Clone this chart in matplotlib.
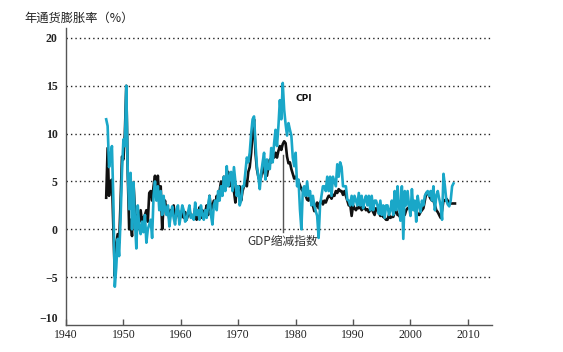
import numpy as np
import matplotlib
matplotlib.use("Agg")
import matplotlib.pyplot as plt

# ---- data (quarterly, annualized %) ----
start_year = 1947.0
cpi = [
    11.5, 10.8, 6.5, 7.5,   8.7, 3.0, -6.0, -4.0,   -1.0, -2.8, 1.0, 6.0,
    9.4, 8.7, 15.0, 6.2,    2.1, 5.9, 0.0, 4.9,     1.0, -2.0, 2.5, 0.3,
    -0.5, 0.8, -0.3, 1.5,   -1.4, 0.0, 0.5, 1.0,    -0.9, 3.5, 5.0, 3.0,
    4.5, 2.0, 4.0, 1.5,     3.5, 2.0, 1.5, 2.5,     0.3, 1.5, 2.4, 1.2,
    0.5, 2.0, 2.5, 0.5,     1.5, 2.5, 2.0, 0.8,     1.0, 1.8, 2.5, 1.2,
    1.5, 1.0, 2.8, 1.5,     2.0, 1.0, 2.5, 1.5,     1.0, 2.0, 1.2, 2.5,
    3.5, 1.5, 0.5, 2.5,     3.0, 2.0, 4.0, 3.0,     4.5, 3.5, 5.5, 4.0,
    6.6, 4.5, 5.5, 6.0,     4.0, 6.5, 5.0, 3.5,     4.5, 2.5, 3.0, 4.5,
    4.5, 6.0, 7.5, 7.0,     8.0, 10.0, 11.5, 11.8,  9.0, 6.6, 5.5, 4.2,
    5.9, 7.0, 8.0, 5.2,     7.3, 6.3, 6.3, 8.5,     7.0, 9.0, 10.4, 8.7,
    10.8, 13.5, 11.5, 15.3, 12.5, 11.0, 9.8, 11.1,  10.4, 9.8, 7.5, 6.6,
    8.0, 4.5, 5.2, 2.1,     0.0, 4.2, 4.5, 3.5,     5.0, 3.5, 4.0, 2.5,
    3.5, 2.5, 1.9, 1.4,     -0.9, 2.5, 3.5, 4.5,    4.5, 4.0, 5.5, 4.0,
    5.5, 3.5, 5.5, 5.0,     4.5, 6.8, 5.5, 7.0,     6.5, 4.5, 4.5, 4.5,
    3.1, 3.0, 2.5, 3.5,     2.5, 3.5, 3.0, 2.5,     3.8, 2.5, 3.5, 2.2,
    3.0, 3.5, 2.5, 3.5,     2.0, 3.5, 2.0, 3.0,     3.0, 2.5, 1.6, 3.0,
    1.5, 2.5, 1.2, 2.5,     2.5, 1.5, 2.0, 3.0,     1.5, 4.0, 2.0, 4.5,
    2.5, 0.9, 4.5, -1.0,    4.0, 2.5, 4.0, 2.5,     1.4, 4.2, 2.0, 3.0,
    0.8, 3.5, 2.5, 1.8,     3.0, 2.5, 3.5, 3.8,     4.0, 3.5, 4.0, 3.0,
    4.5, 2.0, 3.5, 4.0,     3.2, 2.5, 1.0, 5.8,     4.5, 3.0, 2.6, 2.4,
    3.0, 4.5, 4.8,
]
gdp_deflator = [
    3.3, 8.5, 3.5, 5.0,     5.2, 0.3, -4.9, -1.5,   -0.5, -1.4, 2.8, 7.6,
    7.3, 10.0, 15.0, 6.0,   0.0, 1.0, -0.7, 4.9,    2.1, 0.3, 1.5, 0.8,
    2.0, 0.7, 1.2, 1.5,     2.0, 0.8, 3.8, 4.0,     3.0, 4.5, 5.6, 3.5,
    5.6, 3.0, 4.5, 0.0,     2.5, 3.0, 1.8, 2.2,     1.0, 2.0, 1.5, 2.5,
    1.2, 1.5, 2.0, 1.0,     1.5, 2.0, 1.2, 1.8,     1.0, 1.5, 2.0, 1.3,
    1.5, 1.2, 2.2, 1.0,     1.5, 2.3, 1.2, 2.0,     1.5, 1.8, 2.5, 1.5,
    3.5, 2.0, 2.5, 3.0,     2.5, 3.5, 3.0, 4.0,     5.0, 4.0, 5.5, 4.5,
    5.6, 6.0, 4.5, 5.5,     5.0, 4.0, 2.8, 4.5,     3.5, 4.5, 3.0, 4.0,
    4.5, 5.0, 4.5, 6.0,     6.5, 8.0, 10.0, 11.5,   8.0, 6.3, 5.5, 5.0,
    5.5, 6.6, 6.0, 5.6,     5.6, 6.5, 7.3, 7.0,     7.6, 7.5, 8.0, 7.5,
    8.2, 8.7, 8.3, 8.9,     9.2, 9.0, 7.6, 6.9,     7.0, 6.3, 5.8, 5.3,
    5.5, 5.2, 5.0, 4.6,     4.2, 4.0, 3.8, 3.5,     3.1, 3.0, 3.5, 3.2,
    2.5, 1.9, 2.5, 2.8,     2.2, 2.8, 3.0, 2.6,     3.0, 2.8, 3.2, 3.5,
    3.5, 3.2, 3.6, 3.5,     4.0, 3.8, 4.2, 4.0,     4.0, 3.6, 4.0, 3.5,
    3.0, 2.5, 2.6, 1.4,     2.5, 2.2, 2.0, 2.3,     2.2, 2.5, 2.0, 2.2,
    2.3, 2.0, 2.1, 1.8,     2.0, 2.2, 1.8, 1.5,     2.2, 2.0, 1.8, 1.4,
    1.5, 1.3, 1.2, 1.0,     1.0, 1.5, 1.2, 1.3,     1.3, 1.8, 2.0, 1.5,
    1.5, 1.2, 1.5, 1.6,     1.5, 2.0, 2.2, 2.3,     2.3, 2.5, 2.2, 2.0,
    2.0, 1.6, 1.5, 1.8,     2.0, 2.2, 3.0, 3.8,     3.8, 3.5, 3.2, 3.0,
    3.0, 2.5, 2.0, 1.8,     1.5, 1.2, 2.0, 3.0,     3.0, 3.2, 3.0, 2.8,
    2.7, 2.7, 2.7, 2.7,
]
x_ticks = [1940, 1950, 1960, 1970, 1980, 1990, 2000, 2010]
y_ticks = [-10, -5, 0, 5, 10, 15, 20]
title_text = "年通货膨胀率（%）"
cpi_label = "CPI"
gdp_label = "GDP缩减指数"
gdp_label_year = 1977.8
gdp_label_value = 8.8

cpi_x = start_year + 0.25 * np.arange(len(cpi))
gdp_x = start_year + 0.25 * np.arange(len(gdp_deflator))

fig = plt.figure(figsize=(5.63, 3.52), dpi=100)
ax = fig.add_axes([66 / 563, 1 - 325 / 352, (492 - 66) / 563, (325 - 28.4) / 352])

ax.set_xlim(1940, 2014.2)
ax.set_ylim(-10, 21)

for yv in y_ticks:
    if yv > -10:
        ax.axhline(yv, color="#222222", lw=1.0, ls=(0, (1, 2.2)), zorder=1)

ax.plot(gdp_x, gdp_deflator, color="#111111", lw=1.9, zorder=3)
ax.plot(cpi_x, cpi, color="#1aa7c8", lw=1.9, zorder=4)

# annotation for the GDP deflator
ax.plot([gdp_label_year, gdp_label_year], [gdp_label_value - 1.0, -0.3],
        color="#555555", lw=1.0, zorder=5)
ax.text(gdp_label_year, -1.3, gdp_label, ha="center", va="center",
        fontsize=8.5, color="#333333",
        family=["Noto Sans CJK SC", "DejaVu Sans"], zorder=6)
ax.text(1979.9, 13.7, cpi_label, ha="left", va="center", fontsize=6.5,
        fontweight="bold", color="#111111", family="DejaVu Sans", zorder=6)

for s in ["top", "right"]:
    ax.spines[s].set_visible(False)
ax.spines["left"].set_color("#555555")
ax.spines["bottom"].set_color("#555555")
ax.spines["left"].set_linewidth(1.0)
ax.spines["bottom"].set_linewidth(1.0)

ax.set_xticks(x_ticks)
ax.set_xticklabels([str(v) for v in x_ticks], family="Liberation Serif",
                   fontsize=8.5, color="#222222")
ax.tick_params(axis="x", direction="in", length=4, width=1, color="#555555", pad=3)

ax.set_yticks(y_ticks)
ax.set_yticklabels([("\u2212" + str(-v)) if v < 0 else str(v) for v in y_ticks],
                   family="Liberation Serif", fontsize=8.5, fontweight="bold",
                   color="#222222")
ax.tick_params(axis="y", length=0, pad=6)
# keep the bottom y label clear of the first year label
ax.get_yticklabels()[0].set_verticalalignment("bottom")

fig.text(24 / 563, 1 - 18 / 352, title_text, ha="left", va="center",
         fontsize=8.8, color="#222222", family=["Noto Sans CJK SC", "DejaVu Sans"])

fig.savefig("out.png", dpi=100, facecolor="white")
